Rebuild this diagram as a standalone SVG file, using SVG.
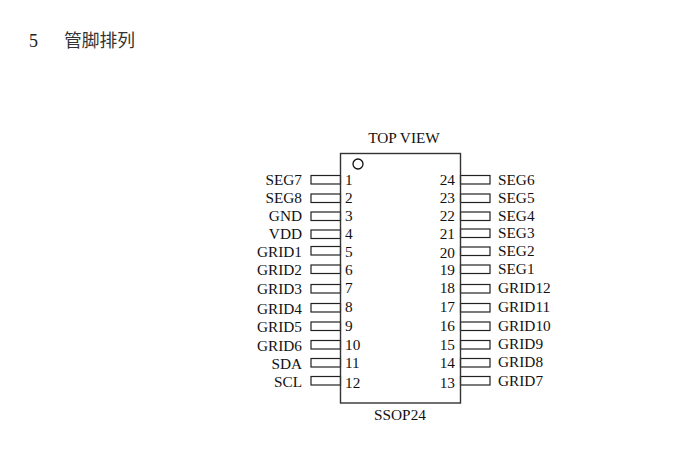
<svg xmlns="http://www.w3.org/2000/svg" width="697" height="453" viewBox="0 0 697 453">
<style>
text{font-family:"Liberation Serif","Noto Sans CJK SC",serif;font-size:15.3px;fill:#111}
.e{text-anchor:end}
.pin{fill:#fff;stroke:#222;stroke-width:1.2}
.h{font-size:18px;fill:#222}
.c{font-family:"Noto Sans CJK SC",serif;font-size:17.8px;fill:#333}
</style>
<rect width="697" height="453" fill="#fff"/>
<text class="h" x="29" y="47">5</text>
<text class="c" x="64" y="47">管脚排列</text>
<g id="connectors">
<rect class="pin" x="311" y="175.5" width="29.5" height="8.5"/>
<rect class="pin" x="311" y="194" width="29.5" height="8.5"/>
<rect class="pin" x="311" y="212" width="29.5" height="8.5"/>
<rect class="pin" x="311" y="230" width="29.5" height="8.5"/>
<rect class="pin" x="311" y="246.5" width="29.5" height="8.5"/>
<rect class="pin" x="311" y="265" width="29.5" height="8.5"/>
<rect class="pin" x="311" y="284.5" width="29.5" height="8.5"/>
<rect class="pin" x="311" y="303.5" width="29.5" height="8.5"/>
<rect class="pin" x="311" y="322" width="29.5" height="8.5"/>
<rect class="pin" x="311" y="340.5" width="29.5" height="8.5"/>
<rect class="pin" x="311" y="358.5" width="29.5" height="8.5"/>
<rect class="pin" x="311" y="376.5" width="29.5" height="8.5"/>
<rect class="pin" x="460.5" y="175.5" width="29.5" height="8.5"/>
<rect class="pin" x="460.5" y="194" width="29.5" height="8.5"/>
<rect class="pin" x="460.5" y="212" width="29.5" height="8.5"/>
<rect class="pin" x="460.5" y="229" width="29.5" height="8.5"/>
<rect class="pin" x="460.5" y="247" width="29.5" height="8.5"/>
<rect class="pin" x="460.5" y="265" width="29.5" height="8.5"/>
<rect class="pin" x="460.5" y="284.5" width="29.5" height="8.5"/>
<rect class="pin" x="460.5" y="303.5" width="29.5" height="8.5"/>
<rect class="pin" x="460.5" y="322" width="29.5" height="8.5"/>
<rect class="pin" x="460.5" y="340.5" width="29.5" height="8.5"/>
<rect class="pin" x="460.5" y="358.5" width="29.5" height="8.5"/>
<rect class="pin" x="460.5" y="376.5" width="29.5" height="8.5"/>
</g>
<g id="chip">
<rect x="340.5" y="153.5" width="120" height="249.5" fill="none" stroke="#333" stroke-width="1.4"/>
<circle cx="358" cy="164" r="5" fill="#fff" stroke="#111" stroke-width="1.3"/>
<text x="404" y="143" text-anchor="middle">TOP VIEW</text>
<text x="400" y="420" text-anchor="middle">SSOP24</text>
</g>
<g id="left-labels">
<text class="e" x="302" y="185">SEG7</text>
<text class="e" x="302" y="203">SEG8</text>
<text class="e" x="302" y="221">GND</text>
<text class="e" x="302" y="239">VDD</text>
<text class="e" x="302" y="256.5">GRID1</text>
<text class="e" x="302" y="274.5">GRID2</text>
<text class="e" x="302" y="294">GRID3</text>
<text class="e" x="302" y="314">GRID4</text>
<text class="e" x="302" y="332">GRID5</text>
<text class="e" x="302" y="350.5">GRID6</text>
<text class="e" x="302" y="369">SDA</text>
<text class="e" x="302" y="386.5">SCL</text>
</g>
<g id="left-numbers">
<text x="345" y="185">1</text>
<text x="345" y="203">2</text>
<text x="345" y="220.5">3</text>
<text x="345" y="239">4</text>
<text x="345" y="257">5</text>
<text x="345" y="275">6</text>
<text x="345" y="293">7</text>
<text x="345" y="312">8</text>
<text x="345" y="331">9</text>
<text x="345" y="350">10</text>
<text x="345" y="368">11</text>
<text x="345" y="388">12</text>
</g>
<g id="right-numbers">
<text class="e" x="455" y="185">24</text>
<text class="e" x="455" y="203">23</text>
<text class="e" x="455" y="221">22</text>
<text class="e" x="455" y="239">21</text>
<text class="e" x="455" y="258">20</text>
<text class="e" x="455" y="275">19</text>
<text class="e" x="455" y="293">18</text>
<text class="e" x="455" y="312">17</text>
<text class="e" x="455" y="331">16</text>
<text class="e" x="455" y="350">15</text>
<text class="e" x="455" y="368">14</text>
<text class="e" x="455" y="388">13</text>
</g>
<g id="right-labels">
<text x="498" y="185">SEG6</text>
<text x="498" y="203">SEG5</text>
<text x="498" y="221">SEG4</text>
<text x="498" y="238">SEG3</text>
<text x="498" y="256">SEG2</text>
<text x="498" y="274">SEG1</text>
<text x="498" y="293">GRID12</text>
<text x="498" y="312">GRID11</text>
<text x="498" y="331">GRID10</text>
<text x="498" y="349">GRID9</text>
<text x="498" y="367">GRID8</text>
<text x="498" y="386">GRID7</text>
</g>
</svg>
